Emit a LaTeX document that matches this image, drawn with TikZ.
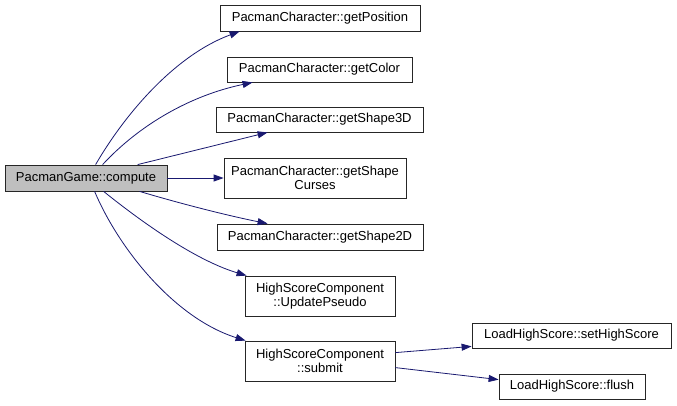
\documentclass[tikz,border=0pt]{standalone}
\usepackage{fontspec}
\setmainfont{Liberation Sans}
\usetikzlibrary{arrows.meta}
\definecolor{edgeblue}{HTML}{191970}
\definecolor{rootgray}{HTML}{BFBFBF}
\begin{document}
\begin{tikzpicture}[x=1pt,y=-1pt,
  fn/.style={draw=black!85,line width=0.8pt,fill=white,rectangle,inner sep=0pt,align=center,
    font=\fontsize{13}{14.5}\selectfont},
  root/.style={fn,fill=rootgray},
  call/.style={draw=edgeblue,line width=0.8pt,-{Triangle[length=10pt,width=7pt]}}]
\useasboundingbox (0,0) rectangle (677,405);
\fill[white] (0,0) rectangle (677,405);
\node[root,minimum width=162pt,minimum height=26pt] (compute) at (86,178) {PacmanGame::compute};
\node[fn,minimum width=200pt,minimum height=26pt] (pos) at (320,18) {PacmanCharacter::getPosition};
\node[fn,minimum width=185pt,minimum height=25pt] (color) at (319.5,69.5) {PacmanCharacter::getColor};
\node[fn,minimum width=207pt,minimum height=25pt] (s3d) at (319.5,119.5) {PacmanCharacter::getShape3D};
\node[fn,minimum width=182pt,minimum height=40pt] (curses) at (315,178) {PacmanCharacter::getShape\\Curses};
\node[fn,minimum width=206pt,minimum height=26pt] (s2d) at (320,237) {PacmanCharacter::getShape2D};
\node[fn,minimum width=150pt,minimum height=40pt] (upd) at (320,296) {HighScoreComponent\\::UpdatePseudo};
\node[fn,minimum width=150pt,minimum height=40pt] (submit) at (320,361) {HighScoreComponent\\::submit};
\node[fn,minimum width=199pt,minimum height=25pt] (sethigh) at (571.5,335.5) {LoadHighScore::setHighScore};
\node[fn,minimum width=146pt,minimum height=25pt] (flush) at (572,386.5) {LoadHighScore::flush};

\draw[call] ([xshift=91pt]compute.north west) .. controls +(29,-50) and +(-65,24) .. ([xshift=20pt]pos.south west);
\draw[call] ([xshift=98pt]compute.north west) .. controls +(37,-40) and +(-62,13) .. ([xshift=26pt]color.south west);
\draw[call] ([xshift=133pt]compute.north west) -- ([xshift=52pt]s3d.south west);
\draw[call] (compute.east) -- (curses.west);
\draw[call] ([xshift=135pt]compute.south west) .. controls +(40,12) and +(-40,-8) .. ([xshift=51pt]s2d.north west);
\draw[call] ([xshift=99pt]compute.south west) .. controls +(46,37) and +(-47,-14) .. ([xshift=2pt]upd.north west);
\draw[call] ([xshift=90pt]compute.south west) .. controls +(25,59) and +(-70,-22) .. ([xshift=1pt]submit.north west);
\draw[call] ([yshift=-12pt]submit.north east) -- ([yshift=2pt]sethigh.south west);
\draw[call] ([yshift=-27pt]submit.north east) -- ([yshift=-6pt]flush.north west);
\end{tikzpicture}
\end{document}
